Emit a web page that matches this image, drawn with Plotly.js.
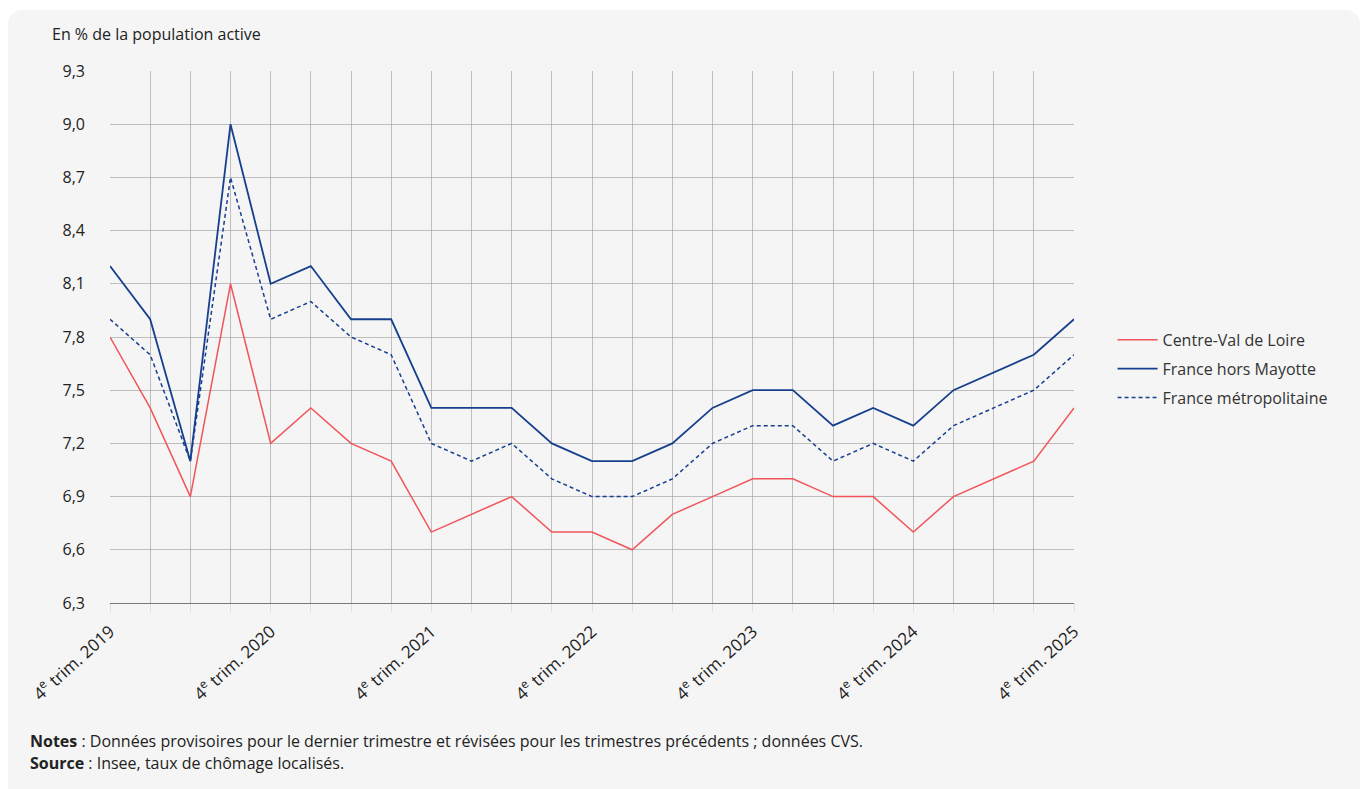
<!DOCTYPE html>
<html><head><meta charset="utf-8">
<script src="https://cdn.plot.ly/plotly-3.0.1.min.js"></script>
<style>
html,body{margin:0;padding:0;background:#fff;width:1368px;height:789px;overflow:hidden;font-family:"Open Sans",sans-serif;}
#panel{position:absolute;left:8px;top:10px;width:1352px;height:790px;background:#f5f5f5;border-radius:14px;}
#chart{position:absolute;left:0;top:0;width:1368px;height:789px;}
.note{position:absolute;left:30px;font-size:16px;color:#222;white-space:nowrap;}
.ytitle{position:absolute;left:52px;top:23px;font-size:16px;color:#222;}
</style></head>
<body>
<div id="panel"></div>
<div id="chart"></div>
<div class="ytitle">En % de la population active</div>
<div class="note" style="top:730px;"><b>Notes</b> : Données provisoires pour le dernier trimestre et révisées pour les trimestres précédents ; données CVS.</div>
<div class="note" style="top:752px;"><b>Source</b> : Insee, taux de chômage localisés.</div>
<script>
const quarters = ["4e trim. 2019","1er trim. 2020","2e trim. 2020","3e trim. 2020","4e trim. 2020","1er trim. 2021","2e trim. 2021","3e trim. 2021","4e trim. 2021","1er trim. 2022","2e trim. 2022","3e trim. 2022","4e trim. 2022","1er trim. 2023","2e trim. 2023","3e trim. 2023","4e trim. 2023","1er trim. 2024","2e trim. 2024","3e trim. 2024","4e trim. 2024","1er trim. 2025","2e trim. 2025","3e trim. 2025","4e trim. 2025"];
const tickLabels = ["4<sup>e</sup> trim. 2019","","","","4<sup>e</sup> trim. 2020","","","","4<sup>e</sup> trim. 2021","","","","4<sup>e</sup> trim. 2022","","","","4<sup>e</sup> trim. 2023","","","","4<sup>e</sup> trim. 2024","","","","4<sup>e</sup> trim. 2025"];
const centreValDeLoire = [7.8,7.4,6.9,8.1,7.2,7.4,7.2,7.1,6.7,6.8,6.9,6.7,6.7,6.6,6.8,6.9,7.0,7.0,6.9,6.9,6.7,6.9,7.0,7.1,7.4];
const franceHorsMayotte = [8.2,7.9,7.1,9.0,8.1,8.2,7.9,7.9,7.4,7.4,7.4,7.2,7.1,7.1,7.2,7.4,7.5,7.5,7.3,7.4,7.3,7.5,7.6,7.7,7.9];
const franceMetro = [7.9,7.7,7.1,8.7,7.9,8.0,7.8,7.7,7.2,7.1,7.2,7.0,6.9,6.9,7.0,7.2,7.3,7.3,7.1,7.2,7.1,7.3,7.4,7.5,7.7];
const yTicks = [6.3,6.6,6.9,7.2,7.5,7.8,8.1,8.4,8.7,9.0,9.3];

const traces = [
 {x:quarters,y:centreValDeLoire,name:"Centre-Val de Loire",legendgroup:"a",mode:"lines",line:{color:"#f0555a",width:1.5}},
 {x:quarters,y:franceHorsMayotte,name:"France hors Mayotte",legendgroup:"b",mode:"lines",line:{color:"#163f8e",width:1.8}},
 {x:quarters,y:franceMetro,name:"France métropolitaine",legendgroup:"c",mode:"lines",line:{color:"#163f8e",width:1.5,dash:"4px,3px"}}
];
const layout = {
 width:1368,height:789,
 paper_bgcolor:"rgba(0,0,0,0)",plot_bgcolor:"rgba(0,0,0,0)",
 margin:{l:110,r:294,t:71,b:186},
 separators:", ",
 font:{family:"Open Sans, sans-serif",size:16,color:"#222"},
 showlegend:true,
 legend:{x:1.04,y:0.44,yanchor:"middle",xanchor:"left",font:{size:16,color:"#333"},bgcolor:"rgba(0,0,0,0)",
   traceorder:"grouped",tracegroupgap:5,itemwidth:40},
 xaxis:{type:"category",range:[0,24],tickmode:"array",tickvals:quarters,ticktext:tickLabels,tickangle:-42,
   showgrid:true,gridcolor:"#9a9a9a",gridwidth:0.6,ticks:"outside",ticklen:8,tickcolor:"#e0e0e0",ticklabelstandoff:3,
   showline:true,linecolor:"#777",linewidth:1,zeroline:false,tickfont:{size:17,color:"#222"}},
 yaxis:{range:[6.3,9.3],tickmode:"array",tickvals:yTicks,tickformat:".1f",showgrid:true,gridcolor:"#9a9a9a",gridwidth:0.6,
   zeroline:false,showline:false,ticks:"",ticklabelstandoff:24,tickfont:{size:16,color:"#222"}}
};
Plotly.newPlot("chart",traces,layout,{displayModeBar:false,staticPlot:true});
</script>
</body></html>
